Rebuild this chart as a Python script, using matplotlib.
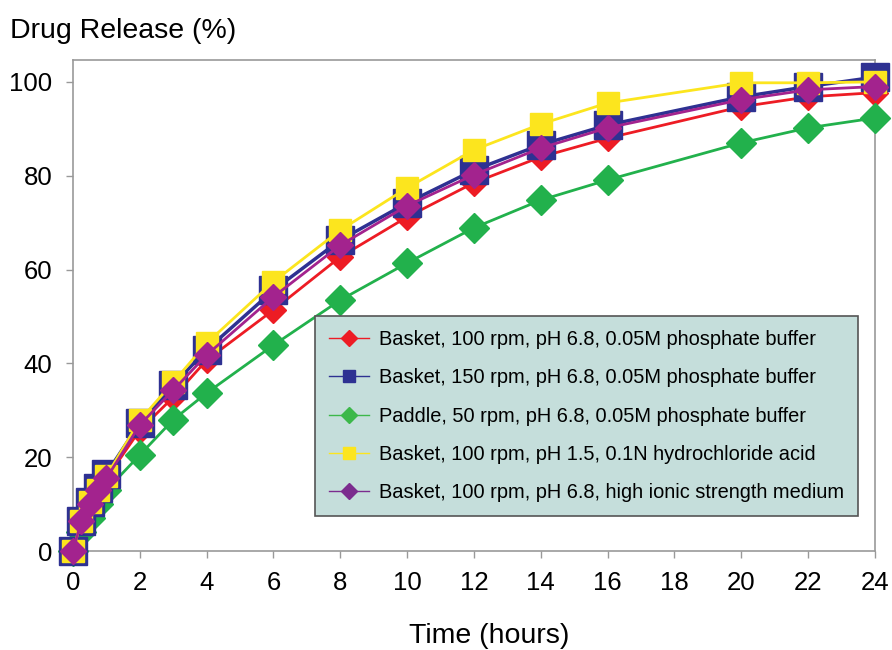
import matplotlib.pyplot as plt

# sampling times (hours)
t = [0, 0.25, 0.5, 0.75, 1, 2, 3, 4, 6, 8, 10, 12, 14, 16, 20, 22, 24]

basket100 = [0, 6, 10, 13, 15.5, 25.8, 32.8, 40.7, 51.4, 62.7, 71.2, 78.5, 84, 88, 94.7, 96.8, 97.7]
basket150 = [0, 6.5, 10.5, 13.5, 16.5, 27.3, 35.4, 42.9, 55.6, 66.3, 74.2, 81.2, 86.6, 90.8, 96.8, 99, 101]
paddle50 = [0, 4, 7, 10, 13, 20.5, 28, 33.7, 43.9, 53.5, 61.4, 68.9, 74.8, 79.1, 87, 90.2, 92.3]
basket_hcl = [0, 6.5, 10.5, 13, 16, 27.9, 36, 44.3, 57.4, 68.4, 77.4, 85.5, 91, 95.5, 99.8, 99.8, 100]
basket_ionic = [0, 6.5, 10, 13, 15.5, 26.9, 34.3, 41.8, 54.2, 65.2, 73.6, 80.2, 85.9, 90.2, 96.2, 98.3, 99]

labels = ['Basket, 100 rpm, pH 6.8, 0.05M phosphate buffer',
          'Basket, 150 rpm, pH 6.8, 0.05M phosphate buffer',
          'Paddle, 50 rpm, pH 6.8, 0.05M phosphate buffer',
          'Basket, 100 rpm, pH 1.5, 0.1N hydrochloride acid',
          'Basket, 100 rpm, pH 6.8, high ionic strength medium']

plt.rcParams['font.family'] = ['Liberation Sans', 'DejaVu Sans']

fig = plt.figure(figsize=(8.92, 6.5), dpi=100)
ax = fig.add_axes([0.0818, 0.152, 0.899, 0.756])

red = '#ED1C24'
navy = '#2E3192'
green = '#22B14C'
yellow = '#FCE51E'
purple = '#A3238E'

ax.plot(t, basket100, color=red, lw=2, marker='D', ms=13, zorder=3, clip_on=False)
ax.plot(t, paddle50, color=green, lw=2, marker='D', ms=15, zorder=4, clip_on=False)
ax.plot(t, basket150, color=navy, lw=2.5, marker='s', ms=20, zorder=5, clip_on=False)
ax.plot(t, basket_hcl, color=yellow, lw=2, marker='s', ms=16, zorder=6, clip_on=False)
ax.plot(t, basket_ionic, color=purple, lw=2, marker='D', ms=13, zorder=7, clip_on=False)

ax.set_xlim(0, 24)
ax.set_ylim(0, 104.7)
ax.set_xticks(range(0, 25, 2))
ax.set_yticks(range(0, 101, 20))
ax.tick_params(labelsize=18.5, length=5, color='#999999', width=1)
ax.tick_params(axis='x', pad=9)
ax.tick_params(axis='y', pad=10)
for s in ax.spines.values():
    s.set_color('#999999')
    s.set_linewidth(1.2)

fig.text(0.011, 0.953, 'Drug Release (%)', fontsize=20.5, va='center', ha='left')
fig.text(0.548, 0.022, 'Time (hours)', fontsize=20.5, va='center', ha='center')

proxies = []
for c, m in [(red, 'D'), (navy, 's'), ('#3CB84A', 'D'), (yellow, 's'), ('#7B2C8E', 'D')]:
    p, = ax.plot([], [], color=c, lw=1, marker=m, ms=8)
    proxies.append(p)
leg = ax.legend(proxies, labels, loc='lower right', bbox_to_anchor=(0.979, 0.071),
                borderaxespad=0, prop={'size': 14.4}, frameon=True, fancybox=False,
                facecolor='#C5DEDB', edgecolor='#555555', framealpha=1,
                handlelength=2.0, handletextpad=0.5, labelspacing=0.97,
                borderpad=0.7)
leg.get_frame().set_linewidth(1.2)
leg.set_zorder(10)

fig.savefig('out.png', dpi=100)
